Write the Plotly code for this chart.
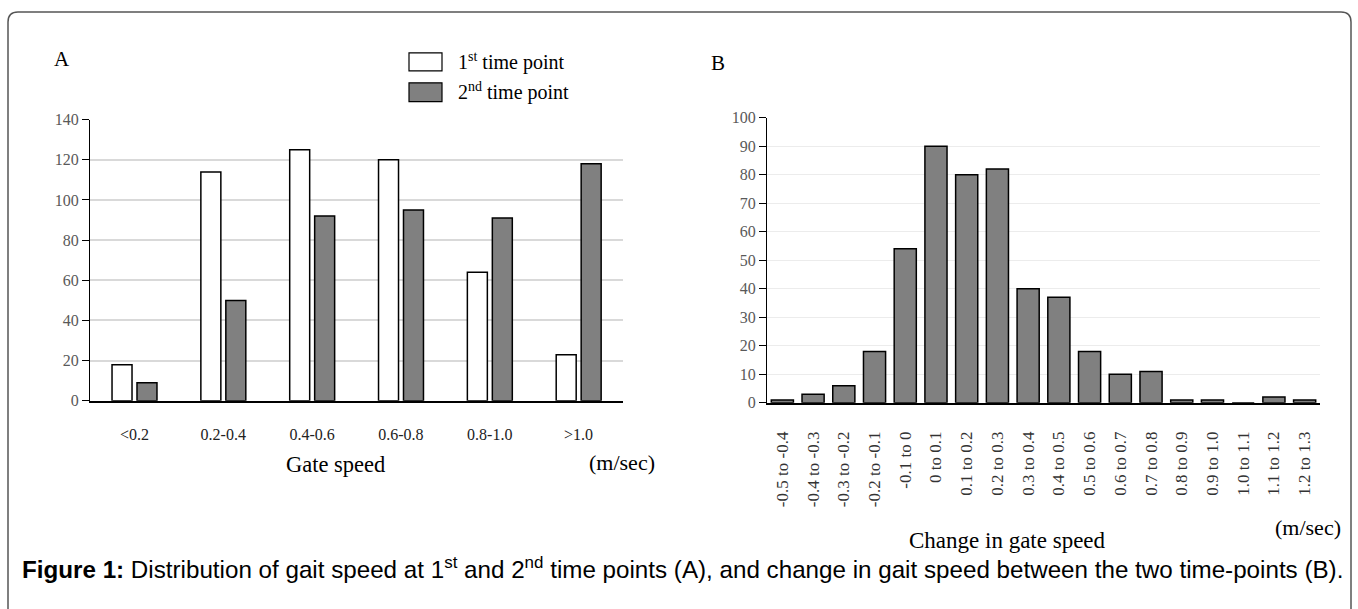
import plotly.graph_objects as go

W, H = 1358, 609

# ---- data ----
cats_a = ["<0.2", "0.2-0.4", "0.4-0.6", "0.6-0.8", "0.8-1.0", ">1.0"]
first_tp = [18, 114, 125, 120, 64, 23]
second_tp = [9, 50, 92, 95, 91, 118]

cats_b = ["-0.5 to -0.4", "-0.4 to -0.3", "-0.3 to -0.2", "-0.2 to -0.1", "-0.1 to 0",
          "0 to 0.1", "0.1 to 0.2", "0.2 to 0.3", "0.3 to 0.4", "0.4 to 0.5",
          "0.5 to 0.6", "0.6 to 0.7", "0.7 to 0.8", "0.8 to 0.9", "0.9 to 1.0",
          "1.0 to 1.1", "1.1 to 1.2", "1.2 to 1.3"]
change_counts = [1, 3, 6, 18, 54, 90, 80, 82, 40, 37, 18, 10, 11, 1, 1, 0, 2, 1]

SERIF = "Liberation Serif, Times New Roman, serif"
SANS = "Liberation Sans, Arial, sans-serif"


def px(x):
    return x / W


def py(y):
    # target pixel row -> paper fraction (compensates the capture's vertical mapping)
    t = (y - 7) / 0.975
    return 1 - t / H


fig = go.Figure()

fig.add_trace(go.Bar(x=cats_a, y=first_tp, name="1st time point",
                     marker=dict(color="white", line=dict(color="black", width=1.5)),
                     width=0.225, offset=-0.252, xaxis="x", yaxis="y", showlegend=False))
fig.add_trace(go.Bar(x=cats_a, y=second_tp, name="2nd time point",
                     marker=dict(color="#808080", line=dict(color="black", width=1.5)),
                     width=0.225, offset=0.029, xaxis="x", yaxis="y", showlegend=False))
fig.add_trace(go.Bar(x=cats_b, y=change_counts, name="Change",
                     marker=dict(color="#808080", line=dict(color="black", width=1.5)),
                     width=0.72, xaxis="x2", yaxis="y2", showlegend=False))

tickfont_y = dict(family=SERIF, size=16, color="#595959")

fig.update_layout(
    width=W, height=H,
    margin=dict(l=0, r=0, t=0, b=0),
    paper_bgcolor="white", plot_bgcolor="white",
    barmode="overlay",
    xaxis=dict(domain=[px(90), px(623)], anchor="y", showgrid=False,
               showline=True, linecolor="black", linewidth=1.5, ticks="",
               tickfont=dict(family=SERIF, size=16, color="#222222"),
               ticklabelstandoff=18),
    yaxis=dict(domain=[py(401), py(119)], anchor="x", range=[0, 140], dtick=20,
               showgrid=True, gridcolor="#d9d9d9", gridwidth=1.5,
               showline=True, linecolor="black", linewidth=1.2,
               ticks="outside", ticklen=7, tickcolor="black", tickwidth=1.2,
               tickfont=tickfont_y, zeroline=False),
    xaxis2=dict(domain=[px(767), px(1320)], anchor="y2", showgrid=False,
                showline=True, linecolor="black", linewidth=2, ticks="",
                tickangle=-90,
                tickfont=dict(family=SERIF, size=17, color="#333333"),
                ticklabelstandoff=20),
    yaxis2=dict(domain=[py(403), py(117)], anchor="x2", range=[0, 100], dtick=10,
                showgrid=True, gridcolor="#ececec", gridwidth=1.2,
                showline=True, linecolor="black", linewidth=1.2,
                ticks="outside", ticklen=7, tickcolor="black", tickwidth=1.2,
                tickfont=tickfont_y, zeroline=False),
)

# frame with rounded top corners
r = 10
x0, x1, y0, y1 = 8, 1351, 11, 660
path = (f"M {px(x0)},{py(y1)} L {px(x0)},{py(y0 + r)} "
        f"Q {px(x0)},{py(y0)} {px(x0 + r)},{py(y0)} "
        f"L {px(x1 - r)},{py(y0)} Q {px(x1)},{py(y0)} {px(x1)},{py(y0 + r)} "
        f"L {px(x1)},{py(y1)}")
fig.add_shape(type="path", path=path, xref="paper", yref="paper",
              line=dict(color="#555555", width=1.5))

# legend boxes for panel A
fig.add_shape(type="rect", xref="paper", yref="paper",
              x0=px(409), x1=px(442), y0=py(70), y1=py(52),
              fillcolor="white", line=dict(color="black", width=1.2))
fig.add_shape(type="rect", xref="paper", yref="paper",
              x0=px(409), x1=px(442), y0=py(101), y1=py(82),
              fillcolor="#808080", line=dict(color="black", width=1.2))


def note(text, x, y, size, family=SERIF, color="black", xanchor="center"):
    fig.add_annotation(text=text, x=px(x), y=py(y), xref="paper", yref="paper",
                       showarrow=False, xanchor=xanchor, yanchor="middle",
                       font=dict(family=family, size=size, color=color))


note("1<sup>st</sup> time point", 456, 61, 20, xanchor="left")
note("2<sup>nd</sup> time point", 456, 91, 20, xanchor="left")
note("A", 62, 58, 21)
note("B", 718, 62, 21)
note("Gate speed", 335, 465, 22.5)
note("(m/sec)", 622, 463, 22)
note("Change in gate speed", 1007, 541, 23)
note("(m/sec)", 1308, 528, 22)
note("<b>Figure 1:</b> Distribution of gait speed at 1<sup>st</sup> and 2<sup>nd</sup> time points (A), "
     "and change in gait speed between the two time-points (B).",
     20, 569, 24.2, family=SANS, color="black", xanchor="left")

fig.write_html(
    "out.html",
    config={"displayModeBar": False},
    post_script="document.documentElement.style.margin='0';"
                "document.body.style.margin='0';document.body.style.padding='0';"
                "document.body.style.overflow='hidden';",
)
